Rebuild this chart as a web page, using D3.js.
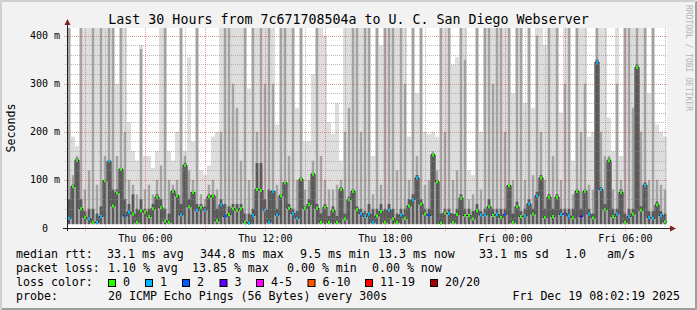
<!DOCTYPE html>
<html lang="en">
<head>
<meta charset="utf-8">
<title>Last 30 Hours from 7c671708504a to U. C. San Diego Webserver</title>
<script src="https://d3js.org/d3.v7.min.js"></script>
<style>
  body { margin: 0; background: #f2f2f2; }
  svg { display: block; font-family: 'DejaVu Sans Mono', monospace; }
  .grid-minor { stroke: rgba(143,143,143,0.6); stroke-dasharray: 1,1; shape-rendering: crispEdges; }
  .grid-major { stroke: rgba(222,79,79,0.6); stroke-dasharray: 1,1; shape-rendering: crispEdges; }
</style>
</head>
<body>
<svg id="chart"></svg>
<script>
// time window (30 hours, 150 columns of 12 min)
var startTime = new Date(Date.UTC(2025, 11, 18, 2, 5, 0));
var endTime = new Date(Date.UTC(2025, 11, 19, 8, 5, 0));

// median rtt per column, ms
var medianMs = [
  20,86,141,40,22,19,12,12,24,98,139,46,73,122,25,33,29,12,36,33,24,40,64,42,15,
  12,76,67,27,130,44,74,37,43,37,65,67,15,48,24,28,40,37,40,12,10,26,80,78,37,
  12,76,27,67,94,41,30,20,101,41,49,112,41,12,43,12,36,12,80,19,59,76,38,30,24,
  29,12,25,34,12,37,19,12,27,20,46,59,104,50,29,26,152,96,10,31,30,12,28,62,26,
  26,19,36,27,27,44,26,28,22,28,88,12,44,24,25,50,29,67,104,22,64,24,64,28,30,
  25,21,76,24,76,29,21,345,80,38,140,24,29,74,12,24,29,334,37,89,22,20,48,26,13
];
// lost pings (of 20) per column
var lossCount = [
  1,0,0,0,0,1,0,1,1,0,1,0,0,0,2,1,0,0,0,0,0,0,0,0,0,
  0,0,0,1,0,0,0,1,0,1,0,0,0,1,2,0,0,0,0,0,1,1,0,0,1,
  1,1,1,0,0,0,1,1,0,0,0,0,0,0,0,0,0,0,0,0,0,0,0,1,1,
  1,1,0,0,0,1,0,0,1,0,0,1,1,0,0,2,0,0,0,0,1,0,0,0,0,
  0,0,0,1,1,0,0,1,0,2,0,0,0,0,1,1,0,1,0,0,0,0,0,1,2,
  1,0,0,3,0,1,0,1,1,0,0,0,1,0,0,1,0,0,0,1,1,1,0,1,0
];
// smoke: highest ping (light band), upper pings (mid band), inner band, ms
var smokeMax = [
  500,190,170,500,500,500,500,500,500,500,500,500,300,500,500,220,160,140,380,150,150,125,160,500,500,
  160,140,200,500,160,355,180,500,120,110,130,190,200,500,500,500,500,500,500,500,290,500,500,500,500,
  500,500,215,500,500,500,500,250,500,180,180,320,500,500,400,220,195,260,140,500,500,500,500,500,500,
  500,150,500,380,500,500,500,500,500,500,190,500,280,500,200,195,200,190,500,500,500,340,355,500,500,
  120,110,500,200,500,500,500,500,500,500,500,280,500,500,260,500,250,500,500,380,500,500,500,240,500,
  500,140,500,500,500,190,200,500,500,500,230,160,500,150,500,500,500,500,500,500,280,500,215,200,190
];
var smokeMid = [
  420,110,150,500,80,120,500,90,500,150,500,420,150,500,200,100,90,70,372,80,90,70,100,130,500,
  100,90,100,500,150,120,100,500,70,60,90,100,80,200,500,500,300,250,140,500,100,500,200,500,300,
  500,300,90,500,500,150,500,100,500,80,100,140,500,150,100,80,80,90,100,200,250,500,500,200,500,
  500,70,500,90,500,500,420,120,500,300,100,500,150,420,90,100,160,120,500,200,500,100,120,500,350,
  60,70,500,80,500,500,300,500,500,200,500,100,500,500,100,500,110,400,200,100,500,150,500,100,300,
  500,70,500,200,300,90,80,500,200,150,150,80,300,100,500,500,250,500,200,500,100,500,100,90,80
];
var smokeInner = [
  60,90,145,60,35,40,40,30,45,100,140,80,80,125,60,50,70,40,60,40,40,50,70,60,40,
  30,80,70,50,135,60,75,50,50,45,70,70,40,60,50,45,50,50,50,30,30,40,135,135,60,
  80,76,40,70,95,50,40,35,105,45,60,115,50,30,50,25,45,25,85,30,65,80,45,40,35,
  50,40,40,50,40,50,40,30,40,40,60,70,110,60,40,40,155,100,30,40,40,30,40,70,40,
  40,35,50,35,40,60,40,40,40,40,90,30,55,35,40,60,40,75,110,40,70,40,70,40,40,
  40,40,80,40,80,40,30,350,85,50,145,40,40,80,30,40,40,340,45,95,35,35,55,35,30
];
var smokeFloorMs = 8;

var yTickValues = [0, 100, 200, 300, 400];
var yTickLabels = ["0", "100 m", "200 m", "300 m", "400 m"];

var lossLabels = ["0", "1", "2", "3", "4-5", "6-10", "11-19", "20/20"];
var lossColors = ["#26ff00", "#00b8ff", "#0059ff", "#5e00ff", "#ff00ff", "#ff5500", "#ff0000", "#a00000"];

// layout
var W = 697, H = 310;
var plot = { left: 67, right: 667, top: 28, bottom: 228 };

var svg = d3.select("#chart").attr("width", W).attr("height", H);

svg.append("rect").attr("width", W).attr("height", H).attr("fill", "#f2f2f2");
// 3d frame
svg.append("path").attr("d", "M0.5,309 V0.5 H696").attr("stroke", "#cfcfcf").attr("fill", "none");
svg.append("path").attr("d", "M1.5,308 V1.5 H695").attr("stroke", "#cfcfcf").attr("fill", "none");
svg.append("path").attr("d", "M1,309.5 H696.5 V1").attr("stroke", "#9e9e9e").attr("fill", "none");
svg.append("path").attr("d", "M2,308.5 H695.5 V2").attr("stroke", "#9e9e9e").attr("fill", "none");

svg.append("rect")
  .attr("x", plot.left).attr("y", plot.top)
  .attr("width", plot.right - plot.left).attr("height", plot.bottom - plot.top)
  .attr("fill", "#ffffff");

var x = d3.scaleUtc().domain([startTime, endTime]).range([plot.left, plot.right]);
var y = d3.scaleLinear().domain([0, 415.8]).range([plot.bottom, plot.top]);

svg.append("clipPath").attr("id", "clip")
  .append("rect")
  .attr("x", plot.left).attr("y", plot.top)
  .attr("width", plot.right - plot.left).attr("height", plot.bottom - plot.top);

var n = medianMs.length;
var colMs = (endTime - startTime) / n;
var cols = d3.range(n).map(function (i) {
  return {
    t0: new Date(+startTime + i * colMs),
    t1: new Date(+startTime + (i + 1) * colMs),
    med: medianMs[i],
    loss: lossCount[i],
    max: smokeMax[i],
    mid: smokeMid[i],
    inner: smokeInner[i]
  };
});

var g = svg.append("g").attr("clip-path", "url(#clip)");

// smoke bands, lightest first (smokeping grey ramp)
var bands = [
  { key: "max", color: "#dddddd", inset: 0 },
  { key: "mid", color: "#a3a3a3", inset: 0.8 },
  { key: "inner", color: "#585858", inset: 0.6 }
];
bands.forEach(function (b) {
  g.selectAll(".smoke-" + b.key)
    .data(cols)
    .enter().append("rect")
    .attr("class", "smoke-" + b.key)
    .attr("x", function (d) { return x(d.t0) + b.inset; })
    .attr("width", function (d) { return x(d.t1) - x(d.t0) - 2 * b.inset; })
    .attr("y", function (d) { return y(d[b.key]); })
    .attr("height", function (d) { return y(smokeFloorMs) - y(d[b.key]); })
    .attr("fill", b.color);
});

// grid
var minorHours = d3.utcHour.every(1).range(startTime, endTime);
var majorHours = d3.utcHour.every(3).range(startTime, endTime);
var labelHours = d3.utcHour.every(6).range(startTime, endTime);
var minorY = d3.range(20, 416, 20).filter(function (v) { return v % 100 !== 0; });

var grid = svg.append("g");
grid.selectAll(".vminor").data(minorHours.filter(function (t) { return t.getUTCHours() % 3 !== 0; }))
  .enter().append("line").attr("class", "grid-minor")
  .attr("x1", function (d) { return Math.round(x(d)) + 0.5; })
  .attr("x2", function (d) { return Math.round(x(d)) + 0.5; })
  .attr("y1", plot.top).attr("y2", plot.bottom + 2);
grid.selectAll(".hminor").data(minorY)
  .enter().append("line").attr("class", "grid-minor")
  .attr("x1", plot.left - 2).attr("x2", plot.right)
  .attr("y1", function (d) { return Math.round(y(d)) + 0.5; })
  .attr("y2", function (d) { return Math.round(y(d)) + 0.5; });
grid.selectAll(".vmajor").data(majorHours)
  .enter().append("line").attr("class", "grid-major")
  .attr("x1", function (d) { return Math.round(x(d)) + 0.5; })
  .attr("x2", function (d) { return Math.round(x(d)) + 0.5; })
  .attr("y1", plot.top).attr("y2", plot.bottom + 3);
grid.selectAll(".hmajor").data(yTickValues.slice(1))
  .enter().append("line").attr("class", "grid-major")
  .attr("x1", plot.left - 3).attr("x2", plot.right)
  .attr("y1", function (d) { return Math.round(y(d)) + 0.5; })
  .attr("y2", function (d) { return Math.round(y(d)) + 0.5; });

// median line
var linePts = cols.map(function (d) { return [x(d.t0), y(d.med)]; });
linePts.push([x(endTime), y(medianMs[n - 1])]);
g.append("path")
  .attr("d", d3.line().curve(d3.curveStepAfter)(linePts))
  .attr("fill", "none")
  .attr("stroke", "#202020")
  .attr("stroke-width", 1);

function lossIndex(c) {
  if (c <= 3) return c;
  if (c <= 5) return 4;
  if (c <= 10) return 5;
  if (c <= 19) return 6;
  return 7;
}

g.selectAll(".loss")
  .data(cols)
  .enter().append("rect")
  .attr("class", "loss")
  .attr("x", function (d) { return (x(d.t0) + x(d.t1)) / 2 - 1; })
  .attr("width", 2)
  .attr("y", function (d) { return y(d.med) - 1.5; })
  .attr("height", 3)
  .attr("fill", function (d) { return lossColors[lossIndex(d.loss)]; });

// axes
var axisCol = "#1f1f1f", arrowCol = "#801f1f";
svg.append("line").attr("x1", plot.left + 0.5).attr("x2", plot.left + 0.5)
  .attr("y1", plot.bottom + 3).attr("y2", plot.top - 6).attr("stroke", axisCol);
svg.append("line").attr("x1", plot.left - 4).attr("x2", plot.right + 5)
  .attr("y1", plot.bottom + 0.5).attr("y2", plot.bottom + 0.5).attr("stroke", axisCol);
svg.append("path")
  .attr("d", "M" + (plot.left - 2.5) + "," + (plot.top - 3) + " L" + (plot.left + 0.5) + "," + (plot.top - 9) +
    " L" + (plot.left + 3.5) + "," + (plot.top - 3) + "Z")
  .attr("fill", arrowCol);
svg.append("path")
  .attr("d", "M" + (plot.right + 3) + "," + (plot.bottom - 2.5) + " L" + (plot.right + 9) + "," + (plot.bottom + 0.5) +
    " L" + (plot.right + 3) + "," + (plot.bottom + 3.5) + "Z")
  .attr("fill", arrowCol);

// y labels
svg.selectAll(".ylab").data(yTickValues)
  .enter().append("text")
  .attr("x", function (d, i) { return i === 0 ? 48 : 60; })
  .attr("y", function (d) { return y(d) + 3.5; })
  .attr("text-anchor", "end")
  .attr("font-size", "10px")
  .attr("fill", "#000")
  .text(function (d, i) { return yTickLabels[i]; });

// x labels
var fmt = d3.utcFormat("%a %H:%M");
svg.selectAll(".xlab").data(labelHours)
  .enter().append("text")
  .attr("x", function (d) { return x(d); })
  .attr("y", 241.5)
  .attr("text-anchor", "middle")
  .attr("font-size", "10px")
  .text(function (d) { return fmt(d); });

// title and side texts
svg.append("text").attr("x", 348.5).attr("y", 24).attr("text-anchor", "middle")
  .attr("font-size", "13.3px").text("Last 30 Hours from 7c671708504a to U. C. San Diego Webserver");
svg.append("text").attr("transform", "translate(14.5,128) rotate(-90)").attr("text-anchor", "middle")
  .attr("font-size", "11.6px").text("Seconds");
svg.append("text").attr("transform", "translate(686,5) rotate(90)").attr("text-anchor", "start")
  .attr("font-size", "8px").attr("fill", "#b4b4b4").text("RRDTOOL / TOBI OETIKER");

// legend
var legendFont = "11.6px";
function ltext(px, py, s, anchor) {
  svg.append("text").attr("x", px).attr("y", py).attr("font-size", legendFont)
    .attr("text-anchor", anchor || "start").text(s);
}
ltext(16, 258, "median rtt:");
ltext(107, 258, "33.1 ms avg");
ltext(200, 258, "344.8 ms max");
ltext(300, 258, "9.5 ms min");
ltext(378, 258, "13.3 ms now");
ltext(479, 258, "33.1 ms sd");
ltext(565, 258, "1.0");
ltext(607, 258, "am/s");

ltext(16, 272, "packet loss:");
ltext(108, 272, "1.10 % avg");
ltext(192, 272, "13.85 % max");
ltext(287, 272, "0.00 % min");
ltext(372, 272, "0.00 % now");

ltext(16, 286, "loss color:");
var boxX = [108, 145, 182, 219.5, 256, 307.5, 365, 430];
lossLabels.forEach(function (lab, i) {
  svg.append("rect").attr("x", boxX[i] + 0.5).attr("y", 279.5).attr("width", 7).attr("height", 7)
    .attr("fill", lossColors[i]).attr("stroke", "#000").attr("stroke-width", 1);
  ltext(boxX[i] + 15, 286, lab);
});

ltext(16, 300, "probe:");
ltext(108, 300, "20 ICMP Echo Pings (56 Bytes) every 300s");
ltext(680, 300, "Fri Dec 19 08:02:19 2025", "end");
</script>
</body>
</html>
